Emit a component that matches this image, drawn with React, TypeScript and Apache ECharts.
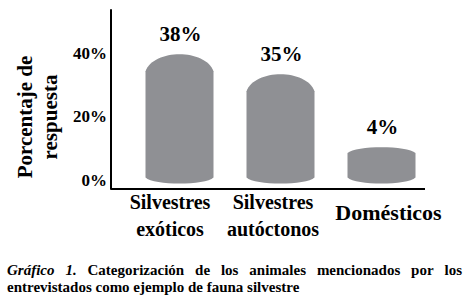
import React, { useEffect, useRef } from 'react';
import * as echarts from 'echarts';

// ---- data ----
const categories = ['Silvestres\nexóticos', 'Silvestres\nautóctonos', 'Domésticos'];
const percentages = [38, 35, 4]; // printed value labels
const drawnHeights = [39.8, 33.5, 10.5]; // bar apex heights as drawn in the figure (% axis units)
const yTickValues = [0, 20, 40];
const yAxisTitle = 'Porcentaje de\nrespuesta';
const captionLead = ['Gráfico', '1.'];
const captionLine1 = ['Categorización', 'de', 'los', 'animales', 'mencionados', 'por', 'los'];
const captionLine2 = 'entrevistados como ejemplo de fauna silvestre';

const SERIF = 'Liberation Serif, Times New Roman, serif';
const BAR_COLOR = '#8f9094';

function measure(text: string, font: string): number {
  const c = document.createElement('canvas').getContext('2d');
  if (!c) return text.length * 7;
  c.font = font;
  return c.measureText(text).width;
}

function buildCaption(): any[] {
  const fontBold = `bold 15px ${SERIF}`;
  const fontItalic = `italic bold 15px ${SERIF}`;
  const words = [
    ...captionLead.map((w) => ({ w, font: fontItalic })),
    ...captionLine1.map((w) => ({ w, font: fontBold })),
  ];
  const left = 7;
  const right = 462;
  const widths = words.map((o) => measure(o.w, o.font));
  const total = widths.reduce((a, b) => a + b, 0);
  const gap = (right - left - total) / (words.length - 1);
  const els: any[] = [];
  let x = left;
  words.forEach((o, i) => {
    els.push({
      type: 'text',
      x,
      y: 270,
      style: { text: o.w, font: o.font, fill: '#000', align: 'left', verticalAlign: 'middle' },
    });
    x += widths[i] + gap;
  });
  els.push({
    type: 'text',
    x: left,
    y: 287,
    style: { text: captionLine2, font: fontBold, fill: '#000', align: 'left', verticalAlign: 'middle' },
  });
  return els;
}

const labelBase = {
  fontFamily: SERIF,
  fontWeight: 'bold' as const,
  fontSize: 20,
  lineHeight: 27,
  color: '#000',
};

export default function App() {
  const ref = useRef<HTMLDivElement>(null);

  useEffect(() => {
    if (!ref.current) return;
    const chart = echarts.init(ref.current, undefined, { renderer: 'svg' });
    const data = categories.map((c, i) => [i, drawnHeights[i], percentages[i]]);

    chart.setOption({
      animation: false,
      backgroundColor: '#fff',
      grid: { left: 129, right: 32, top: 10, bottom: 113 },
      xAxis: {
        type: 'category',
        data: categories,
        axisLine: { show: false },
        axisTick: { show: false },
        axisLabel: {
          interval: 0,
          margin: 26,
          verticalAlign: 'middle',
          ...labelBase,
          formatter: (value: string, index: number) => `{c${index}|${value}}`,
          rich: {
            c0: { ...labelBase, padding: [0, 19, 0, 0] },
            c1: { ...labelBase, padding: [0, 15, 0, 0] },
            c2: { ...labelBase, fontSize: 22, padding: [0, 0, 6, 14] },
          },
        },
      },
      yAxis: {
        type: 'value',
        min: -2.68,
        max: 53.7,
        offset: 18,
        axisLine: { show: true, lineStyle: { color: '#000', width: 2 } },
        axisTick: { show: false },
        splitLine: { show: false },
        axisLabel: {
          customValues: yTickValues,
          formatter: '{value}%',
          margin: 4,
          color: '#000',
          fontFamily: SERIF,
          fontWeight: 'bold',
          fontSize: 17,
        },
      },
      series: [
        {
          type: 'custom',
          data,
          encode: { x: 0, y: 1 },
          renderItem: (params: any, api: any) => {
            const idx = api.value(0);
            const h = api.value(1);
            const pct = api.value(2);
            const top = api.coord([idx, h]);
            const base = api.coord([idx, 0]);
            const w = 68;
            const cx = top[0];
            const x0 = cx - w / 2;
            const x1 = cx + w / 2;
            const apex = top[1];
            const bottomApex = base[1] + 3;
            const total = bottomApex - apex;
            const dome = Math.min(17, total * 0.16);
            const bulge = 6;
            const ys = apex + dome;
            const yb = bottomApex - bulge;
            const k = 4 / 3;
            const d =
              `M${x0},${ys} C${x0 + w * 0.12},${ys - dome * k} ${x1 - w * 0.12},${ys - dome * k} ${x1},${ys} ` +
              `L${x1},${yb} C${x1 - w * 0.12},${yb + bulge * k} ${x0 + w * 0.12},${yb + bulge * k} ${x0},${yb} Z`;
            return {
              type: 'group',
              children: [
                { type: 'path', shape: { pathData: d }, style: { fill: BAR_COLOR } },
                {
                  type: 'text',
                  x: cx + 1,
                  y: apex - 20,
                  style: {
                    text: pct + '%',
                    font: `bold 21px ${SERIF}`,
                    fill: '#000',
                    align: 'center',
                    verticalAlign: 'middle',
                  },
                },
              ],
            };
          },
        },
      ],
      graphic: [
        {
          type: 'line',
          shape: { x1: 111, y1: 189, x2: 425, y2: 189 },
          style: { stroke: '#000', lineWidth: 2 },
        },
        {
          type: 'text',
          x: 37.5,
          y: 117,
          rotation: Math.PI / 2,
          style: {
            text: yAxisTitle,
            font: `bold 21px ${SERIF}`,
            fill: '#000',
            align: 'center',
            verticalAlign: 'middle',
            lineHeight: 25,
          },
        },
        ...buildCaption(),
      ],
    });

    return () => chart.dispose();
  }, []);

  return (
    <div
      ref={ref}
      style={{ position: 'absolute', left: 0, top: 0, width: 464, height: 302, background: '#fff' }}
    />
  );
}
